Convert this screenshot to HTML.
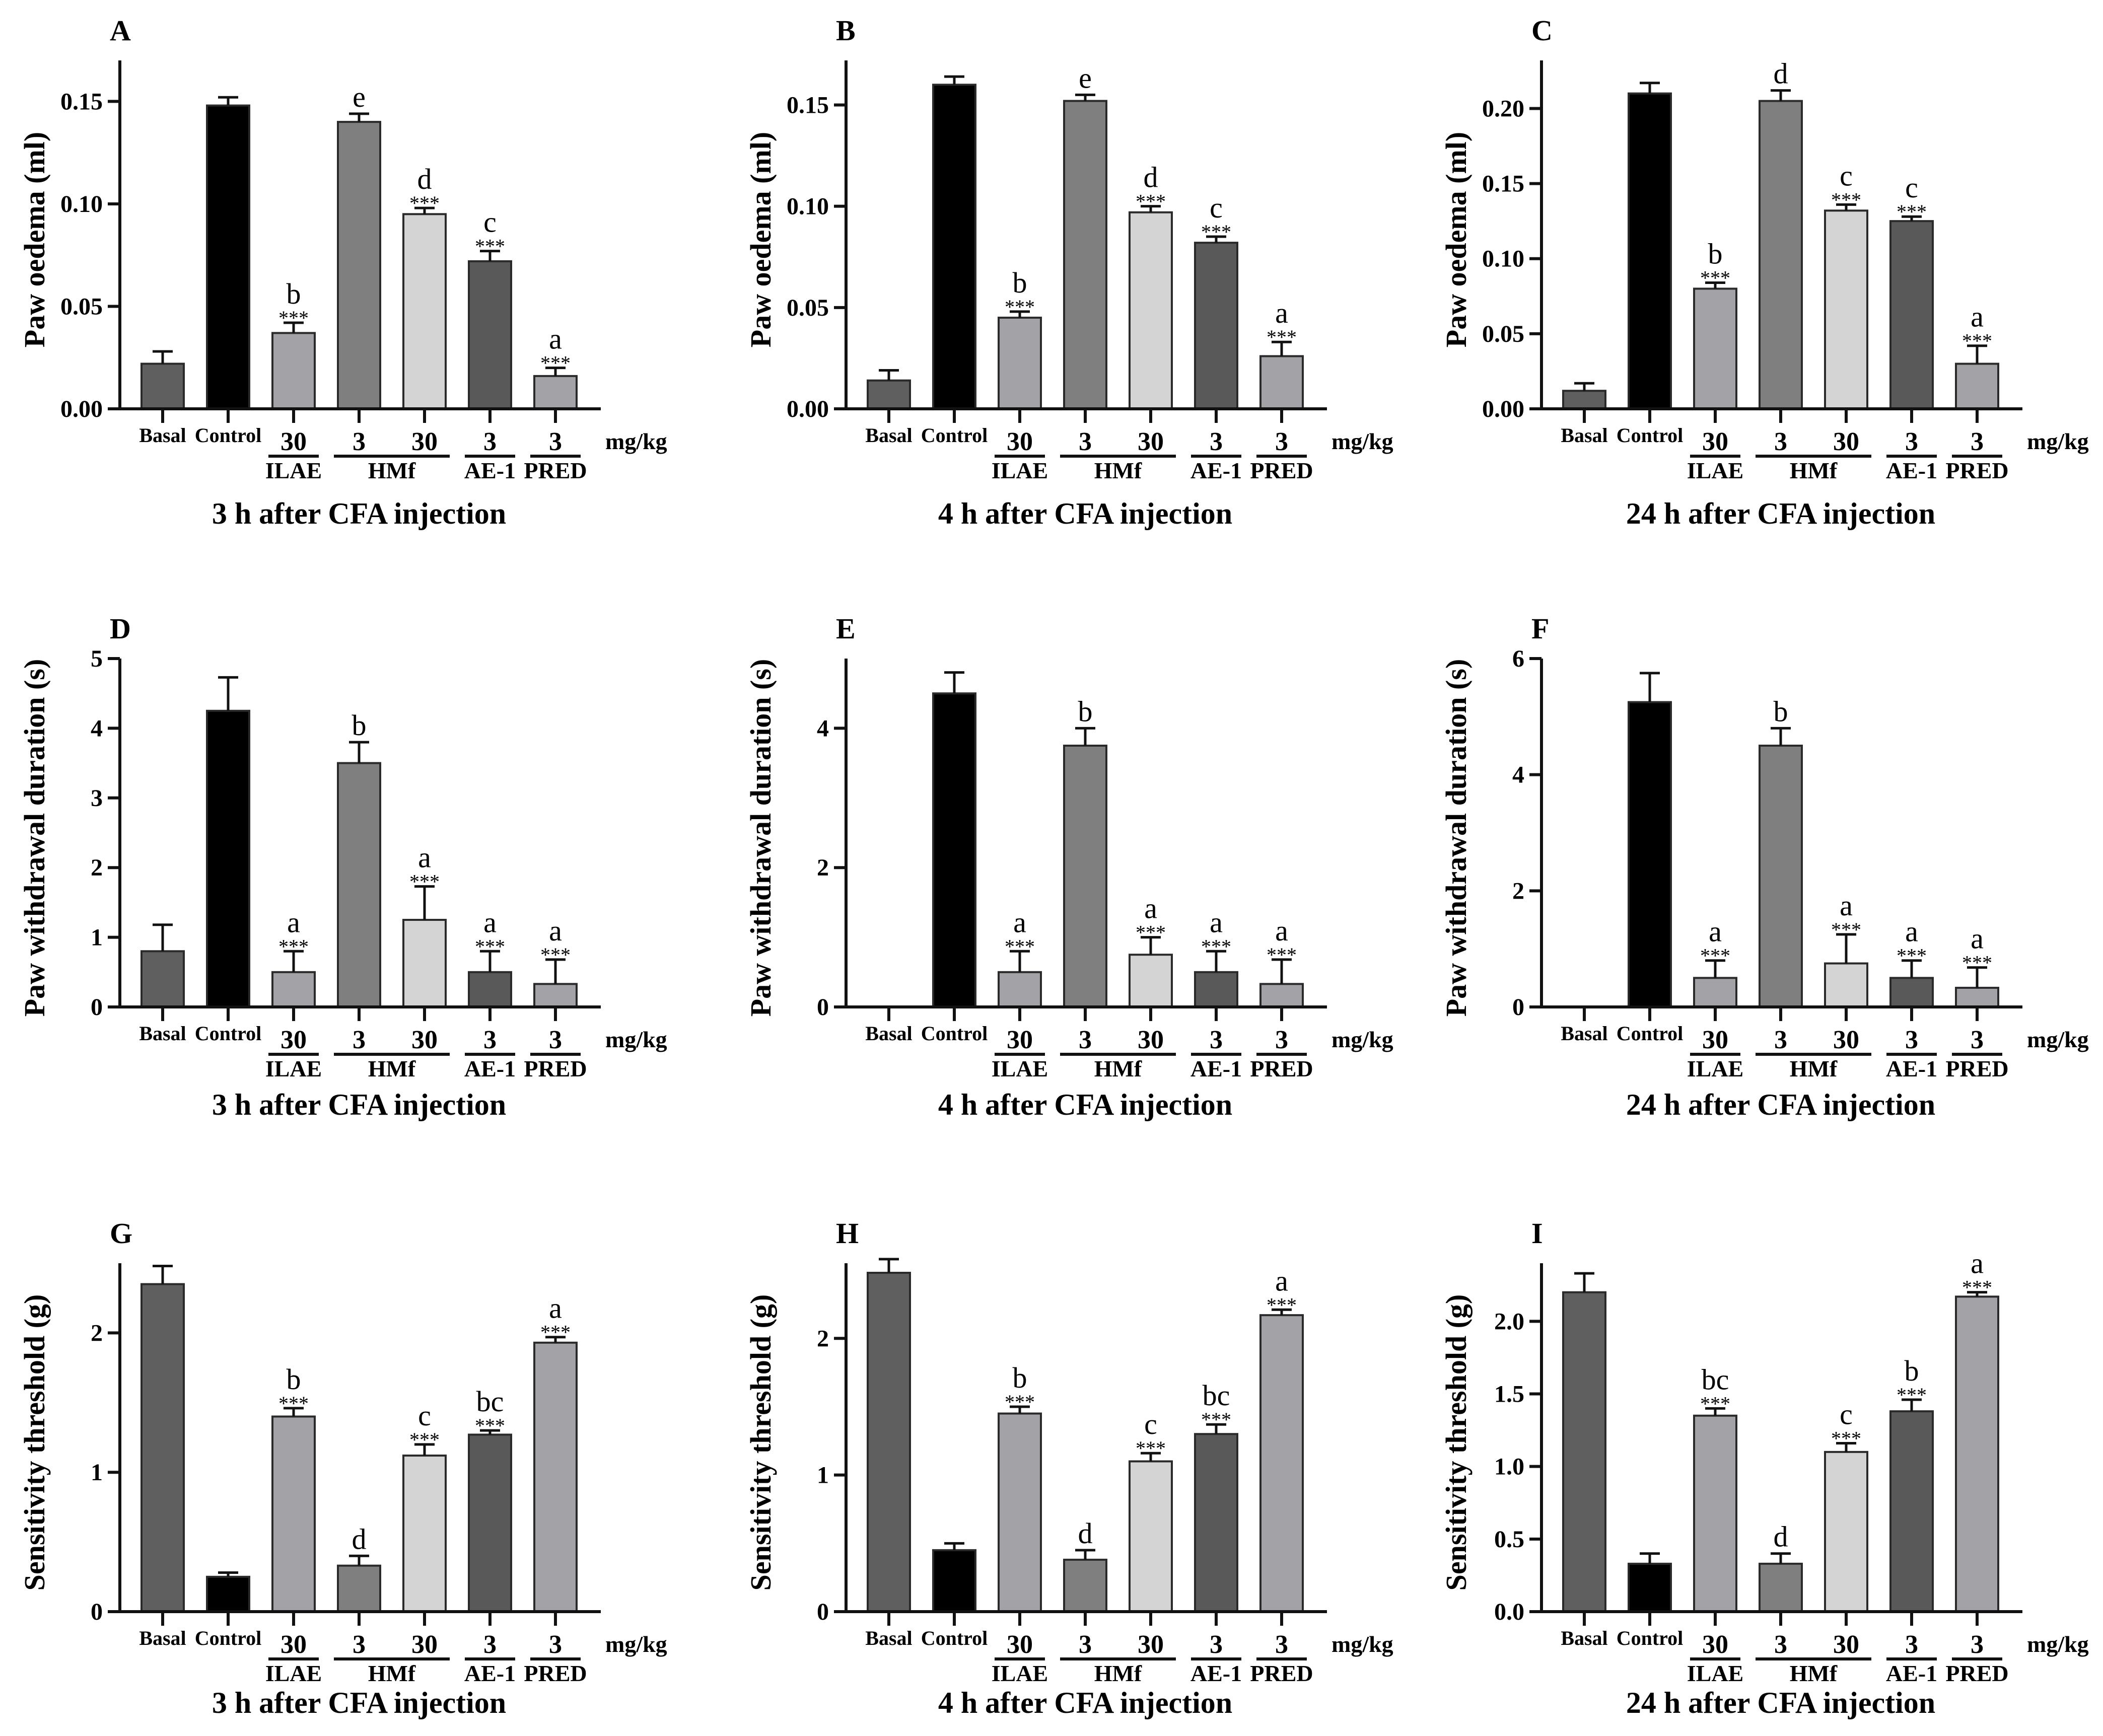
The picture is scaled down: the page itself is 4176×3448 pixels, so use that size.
<!DOCTYPE html>
<html><head><meta charset="utf-8"><style>
html,body{margin:0;padding:0;background:#fff;}
svg{display:block;font-family:"Liberation Serif",serif;}
</style></head><body>
<svg id="fig" width="4176" height="3448" viewBox="0 0 4176 3448"></svg>
<script>
// ---- data arrays ----
const categories = ["Basal","Control","30","3","30","3","3"];
const groupNames = ["ILAE","HMf","AE-1","PRED"];
const panelLetters = ["A","B","C","D","E","F","G","H","I"];
const panelTitles = ["3 h after CFA injection","4 h after CFA injection","24 h after CFA injection"];
const yTitles = ["Paw oedema (ml)","Paw withdrawal duration (s)","Sensitivity threshold (g)"];
const yMaxes = [0.17,0.172,0.232, 5,5,6, 2.5,2.55,2.4];
const yTicks = [
 ["0.00","0.05","0.10","0.15"],["0.00","0.05","0.10","0.15"],["0.00","0.05","0.10","0.15","0.20"],
 ["0","1","2","3","4","5"],["0","2","4"],["0","2","4","6"],
 ["0","1","2"],["0","1","2"],["0.0","0.5","1.0","1.5","2.0"]];
const valsA = [0.022,0.148,0.037,0.140,0.095,0.072,0.016];
const errA  = [0.006,0.004,0.005,0.004,0.003,0.005,0.004];
const valsB = [0.014,0.160,0.045,0.152,0.097,0.082,0.026];
const errB  = [0.005,0.004,0.003,0.003,0.003,0.003,0.007];
const valsC = [0.012,0.210,0.080,0.205,0.132,0.125,0.030];
const errC  = [0.005,0.007,0.004,0.007,0.004,0.003,0.012];
const valsD = [0.8,4.25,0.5,3.5,1.25,0.5,0.33];
const errD  = [0.38,0.48,0.3,0.3,0.48,0.3,0.35];
const valsE = [0,4.5,0.5,3.75,0.75,0.5,0.33];
const errE  = [0,0.3,0.3,0.25,0.25,0.3,0.35];
const valsF = [0,5.25,0.5,4.5,0.75,0.5,0.33];
const errF  = [0,0.5,0.3,0.3,0.5,0.3,0.35];
const valsG = [2.35,0.25,1.4,0.33,1.12,1.27,1.93];
const errG  = [0.13,0.03,0.06,0.07,0.08,0.03,0.04];
const valsH = [2.48,0.45,1.45,0.38,1.1,1.3,2.17];
const errH  = [0.10,0.05,0.05,0.07,0.06,0.07,0.04];
const valsI = [2.2,0.33,1.35,0.33,1.1,1.38,2.17];
const errI  = [0.13,0.07,0.05,0.07,0.06,0.08,0.03];
const lettersRow1A = ["","","b","e","d","c","a"];
const lettersRow1C = ["","","b","d","c","c","a"];
const lettersRow2 = ["","","a","b","a","a","a"];
const lettersRow3GH = ["","","b","d","c","bc","a"];
const lettersRow3I = ["","","bc","d","c","b","a"];
const starsRow = [false,false,true,false,true,true,true];
const allVals=[valsA,valsB,valsC,valsD,valsE,valsF,valsG,valsH,valsI];
const allErr=[errA,errB,errC,errD,errE,errF,errG,errH,errI];
const allLetters=[lettersRow1A,lettersRow1A,lettersRow1C,lettersRow2,lettersRow2,lettersRow2,lettersRow3GH,lettersRow3GH,lettersRow3I];

const colors=["#5f5f5f","#000000","#a2a2a7","#7f7f7f","#d4d4d4","#595959","#a2a2a7"];
const colX=[238,1680,3061], rowY=[812,2000,3201], titleOff=[208,194,181];
const H=692, NS="http://www.w3.org/2000/svg", svg=document.getElementById('fig');
function mk(tag,attrs,parent,text){const e=document.createElementNS(NS,tag);for(const k in attrs)e.setAttribute(k,attrs[k]);if(text!==undefined)e.textContent=text;(parent||svg).appendChild(e);return e;}

for(let p=0;p<9;p++){
  const r=Math.floor(p/3), c=p%3, x0=colX[c], y0=rowY[r], ymax=yMaxes[p];
  const g=mk('g',{});
  
  
  const ys=v=>y0-v/ymax*H;
  const xs=i=>x0+85+130*i;
  const L=mk('text',{x:x0-20,y:y0-H-40,'font-size':58,'font-weight':'bold'},g,panelLetters[p]);
  
  
  const vals=allVals[p], errs=allErr[p], lets=allLetters[p];
  for(let i=0;i<7;i++){
    const v=vals[i], e=errs[i], cx=xs(i), top=ys(v);
    if(v>0){
      const b=mk('rect',{x:cx-42,y:top,width:84,height:y0-top,fill:colors[i],stroke:'#2a2a2a','stroke-width':4},g);
      
      
    }
    let et=ys(v+e);
    if(e>0){
      const eb=mk('path',{d:`M${cx},${top} V${et} M${cx-20},${et} H${cx+20}`,stroke:'#111','stroke-width':5,fill:'none'},g);
      
      
    }
    let ly=et-14;
    if(starsRow[i] && lets[i]){
      const s=mk('text',{x:cx,y:et+4,'font-size':40,'text-anchor':'middle'},g,'***');
      
      
      ly=et-38;
    }
    if(lets[i]){
      const t=mk('text',{x:cx,y:ly,'font-size':58,'text-anchor':'middle'},g,lets[i]);
      
      
    }
    mk('line',{x1:cx,y1:y0,x2:cx,y2:y0+28,stroke:'#111','stroke-width':6},g);
    const big=i>=2;
    const cl=mk('text',{x:cx,y:y0+(big?82:66),'font-size':big?52:40,'font-weight':'bold','text-anchor':'middle'},g,categories[i]);
    
    
  }
  const spans=[[2,2],[3,4],[5,5],[6,6]];
  spans.forEach((s,k)=>{
    mk('line',{x1:xs(s[0])-50,y1:y0+94,x2:xs(s[1])+50,y2:y0+94,stroke:'#111','stroke-width':6},g);
    const gt=mk('text',{x:(xs(s[0])+xs(s[1]))/2,y:y0+138,'font-size':46,'font-weight':'bold','text-anchor':'middle'},g,groupNames[k]);
    
    
  });
  const u=mk('text',{x:x0+964,y:y0+80,'font-size':46,'font-weight':'bold'},g,'mg/kg');
  
  
  mk('line',{x1:x0,y1:y0-H,x2:x0,y2:y0+3,stroke:'#111','stroke-width':6},g);
  mk('line',{x1:x0-24,y1:y0,x2:x0+955,y2:y0,stroke:'#111','stroke-width':6},g);
  yTicks[p].forEach(tl=>{
    const ty=ys(parseFloat(tl));
    mk('line',{x1:x0-24,y1:ty,x2:x0,y2:ty,stroke:'#111','stroke-width':6},g);
    const t=mk('text',{x:x0-34,y:ty+16,'font-size':48,'font-weight':'bold','text-anchor':'end'},g,tl);
    
    
  });
  const yt=mk('text',{x:0,y:0,'font-size':58,'font-weight':'bold','text-anchor':'middle',transform:`translate(${x0-150},${y0-H/2+10}) rotate(-90)`},g,yTitles[r]);
  
  
  const xt=mk('text',{x:x0+475,y:y0+titleOff[r]+20,'font-size':60,'font-weight':'bold','text-anchor':'middle'},g,panelTitles[c]);
  
  
}
</script>
</body></html>
